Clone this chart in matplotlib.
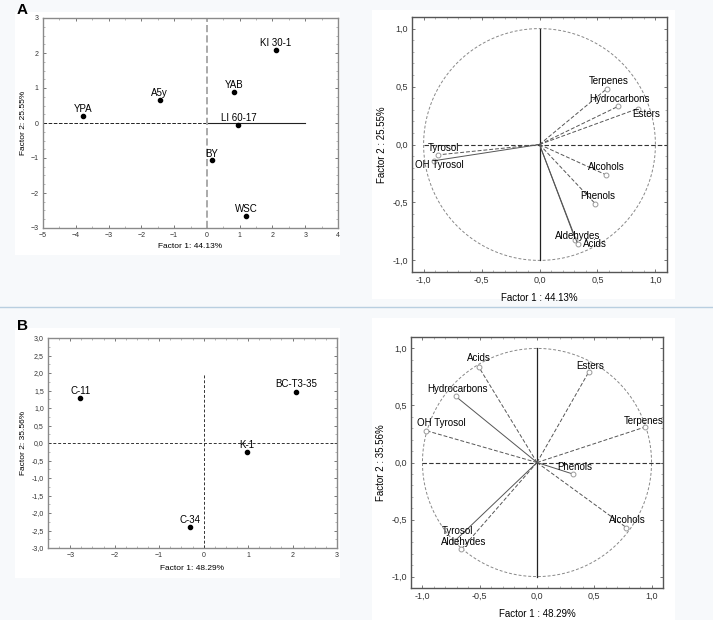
import matplotlib
matplotlib.use("Agg")
import matplotlib.pyplot as plt
import numpy as np
from matplotlib.ticker import MultipleLocator, FuncFormatter
from matplotlib.patches import Rectangle

plt.rcParams['font.family'] = ['Liberation Sans', 'DejaVu Sans']

# ---------------- data ----------------
samples_A = ['YPA', 'A5y', 'KI 30-1', 'YAB', 'LI 60-17', 'BY', 'WSC']
f1_A = [-3.77, -1.44, 2.10, 0.84, 0.96, 0.16, 1.19]
f2_A = [0.21, 0.67, 2.09, 0.90, -0.05, -1.07, -2.65]

vars_A = ['Terpenes', 'Hydrocarbons', 'Esters', 'Tyrosol', 'OH Tyrosol',
          'Alcohols', 'Phenols', 'Aldehydes', 'Acids']
load1_A = [0.58, 0.68, 0.85, -0.88, -0.91, 0.57, 0.48, 0.31, 0.33]
load2_A = [0.48, 0.33, 0.31, -0.09, -0.14, -0.26, -0.51, -0.82, -0.86]

samples_B = ['C-11', 'BC-T3-35', 'K-1', 'C-34']
f1_B = [-2.77, 2.08, 0.98, -0.31]
f2_B = [1.28, 1.47, -0.27, -2.40]

vars_B = ['Acids', 'Esters', 'Hydrocarbons', 'OH Tyrosol', 'Terpenes',
          'Phenols', 'Alcohols', 'Tyrosol', 'Aldehydes']
load1_B = [-0.51, 0.45, -0.71, -0.97, 0.94, 0.31, 0.78, -0.72, -0.66]
load2_B = [0.84, 0.79, 0.58, 0.28, 0.31, -0.10, -0.57, -0.69, -0.76]

# ---------------- styles / positions ----------------
ls_A = ['--', '--', '--', '--', '-', '--', '--', '-', '-']
off_A = [(1.4, 5.5), (0.5, 5.3), (6.1, -4.2), (4.3, 4.8), (4.0, -2.9),
         (0.7, 5.3), (1.8, 5.5), (1.8, 2.9), (12.4, 0)]
ls_B = ['--', '--', '-', '--', '--', '-', '--', '-', '--']
off_B = [(0, 6), (1.2, 4.8), (1.4, 5.3), (11, 5.3), (-0.9, 4.5),
         (1.7, 5), (0.9, 5.5), (2.3, 7.2), (1.9, 5)]

W, H = 713, 620
fig = plt.figure(figsize=(W / 100, H / 100), dpi=100, facecolor='#f7f9fb')

def fax(l, t, r, b):
    return fig.add_axes([l / W, 1 - b / H, (r - l) / W, (b - t) / H])

def panel(l, t, r, b):
    fig.patches.append(Rectangle((l / W, 1 - b / H), (r - l) / W, (b - t) / H,
                                 transform=fig.transFigure, facecolor='white',
                                 edgecolor='none', zorder=-10))

panel(15, 12, 340, 255)
panel(372, 10, 675, 299)
panel(15, 328, 340, 578)
panel(372, 318, 675, 620)

# separator
fig.add_artist(plt.Line2D([0, 1], [1 - 307 / H, 1 - 307 / H], transform=fig.transFigure,
                          color='#b9cfe0', lw=1.0))
fig.text(17 / W, 1 - 10 / H, 'A', fontsize=11, fontweight='bold', va='center', ha='left')
fig.text(17 / W, 1 - 326 / H, 'B', fontsize=11, fontweight='bold', va='center', ha='left')

comma = FuncFormatter(lambda v, p: ('%.1f' % v).replace('.', ','))

def style(ax, tick_fs, major, minor, spine_col='#8a8a8a'):
    ax.set_facecolor('white')
    for s in ax.spines.values():
        s.set_color(spine_col)
        s.set_linewidth(1.0)
    ax.xaxis.set_major_locator(MultipleLocator(major[0]))
    ax.yaxis.set_major_locator(MultipleLocator(major[1]))
    ax.xaxis.set_minor_locator(MultipleLocator(minor[0]))
    ax.yaxis.set_minor_locator(MultipleLocator(minor[1]))
    ax.tick_params(which='major', direction='in', length=2.5, width=0.7,
                   top=True, right=True, labelsize=tick_fs, colors='#777777',
                   labelcolor='#333333', pad=3)
    ax.tick_params(which='minor', direction='in', length=1.5, width=0.5,
                   top=True, right=True, colors='#999999')

# ---------------- A scores ----------------
ax1 = fax(43, 18, 338, 228)
ax1.set_xlim(-5, 4)
ax1.set_ylim(-3, 3)
style(ax1, 5.0, (1, 1), (0.5, 0.25))
ax1.plot([-5, 0], [0, 0], ls='--', color='#222222', lw=0.7)
ax1.plot([0, 3], [0, 0], ls='-', color='#222222', lw=0.8)
ax1.plot([0, 0], [-3, 3], ls='--', color='#aaaaaa', lw=1.4)
ax1.scatter(f1_A, f2_A, s=9, color='black', zorder=3)
for n, x, y in zip(samples_A, f1_A, f2_A):
    ax1.annotate(n, (x, y), xytext=(0, 5), textcoords='offset points',
                 ha='center', va='center', fontsize=7)
ax1.set_xlabel('Factor 1: 44.13%', fontsize=6, labelpad=3)
ax1.set_ylabel('Factor 2: 25.55%', fontsize=6, labelpad=3)

# ---------------- loadings ----------------
def loadings(ax, names, l1, l2, lss, offs, xl, yl, xpad):
    ax.set_xlim(-1.1, 1.1)
    ax.set_ylim(-1.1, 1.1)
    style(ax, 6.5, (0.5, 0.5), (0.1, 0.1), spine_col='#555555')
    ax.xaxis.set_major_formatter(comma)
    ax.yaxis.set_major_formatter(comma)
    t = np.linspace(0, 2 * np.pi, 400)
    ax.plot(np.cos(t), np.sin(t), ls=(0, (3, 2)), color='#888888', lw=0.7)
    ax.plot([-1, 1.1], [0, 0], ls=(0, (4, 2)), color='#333333', lw=0.8)
    ax.plot([0, 0], [-1, 1], ls='-', color='#222222', lw=0.9)
    for n, x, y, ls, o in zip(names, l1, l2, lss, offs):
        ax.plot([0, x], [0, y], ls=ls, color='#555555', lw=0.7,
                dashes=(4, 2) if ls == '--' else (None, None))
        ax.plot([x], [y], marker='o', ms=3.5, mfc='white', mec='#999999', mew=0.7)
        ax.annotate(n, (x, y), xytext=o, textcoords='offset points',
                    ha='center', va='center', fontsize=7)
    ax.set_xlabel(xl, fontsize=7, labelpad=xpad)
    ax.set_ylabel(yl, fontsize=7, labelpad=4)

ax2 = fax(412, 17, 667, 272)
loadings(ax2, vars_A, load1_A, load2_A, ls_A, off_A,
         'Factor 1 : 44.13%', 'Factor 2 : 25.55%', 5.5)

# ---------------- B scores ----------------
ax3 = fax(48, 338, 337, 548)
ax3.set_xlim(-3.5, 3)
ax3.set_ylim(-3, 3)
style(ax3, 5.0, (1, 0.5), (0.25, 0.25))
ax3.yaxis.set_major_formatter(comma)
ax3.plot([-3.5, 3], [0, 0], ls=(0, (3, 2)), color='#333333', lw=0.7)
ax3.plot([0, 0], [-3, 2], ls=(0, (3, 2)), color='#333333', lw=0.7)
ax3.scatter(f1_B, f2_B, s=9, color='black', zorder=3)
for n, x, y in zip(samples_B, f1_B, f2_B):
    ax3.annotate(n, (x, y), xytext=(0, 5.3), textcoords='offset points',
                 ha='center', va='center', fontsize=7)
ax3.set_xlabel('Factor 1: 48.29%', fontsize=6, labelpad=4)
ax3.set_ylabel('Factor 2: 35.56%', fontsize=6, labelpad=3)

# ---------------- B loadings ----------------
ax4 = fax(411, 337, 663, 588)
loadings(ax4, vars_B, load1_B, load2_B, ls_B, off_B,
         'Factor 1 : 48.29%', 'Factor 2 : 35.56%', 5.5)

fig.savefig('out.png', dpi=100, facecolor=fig.get_facecolor())
